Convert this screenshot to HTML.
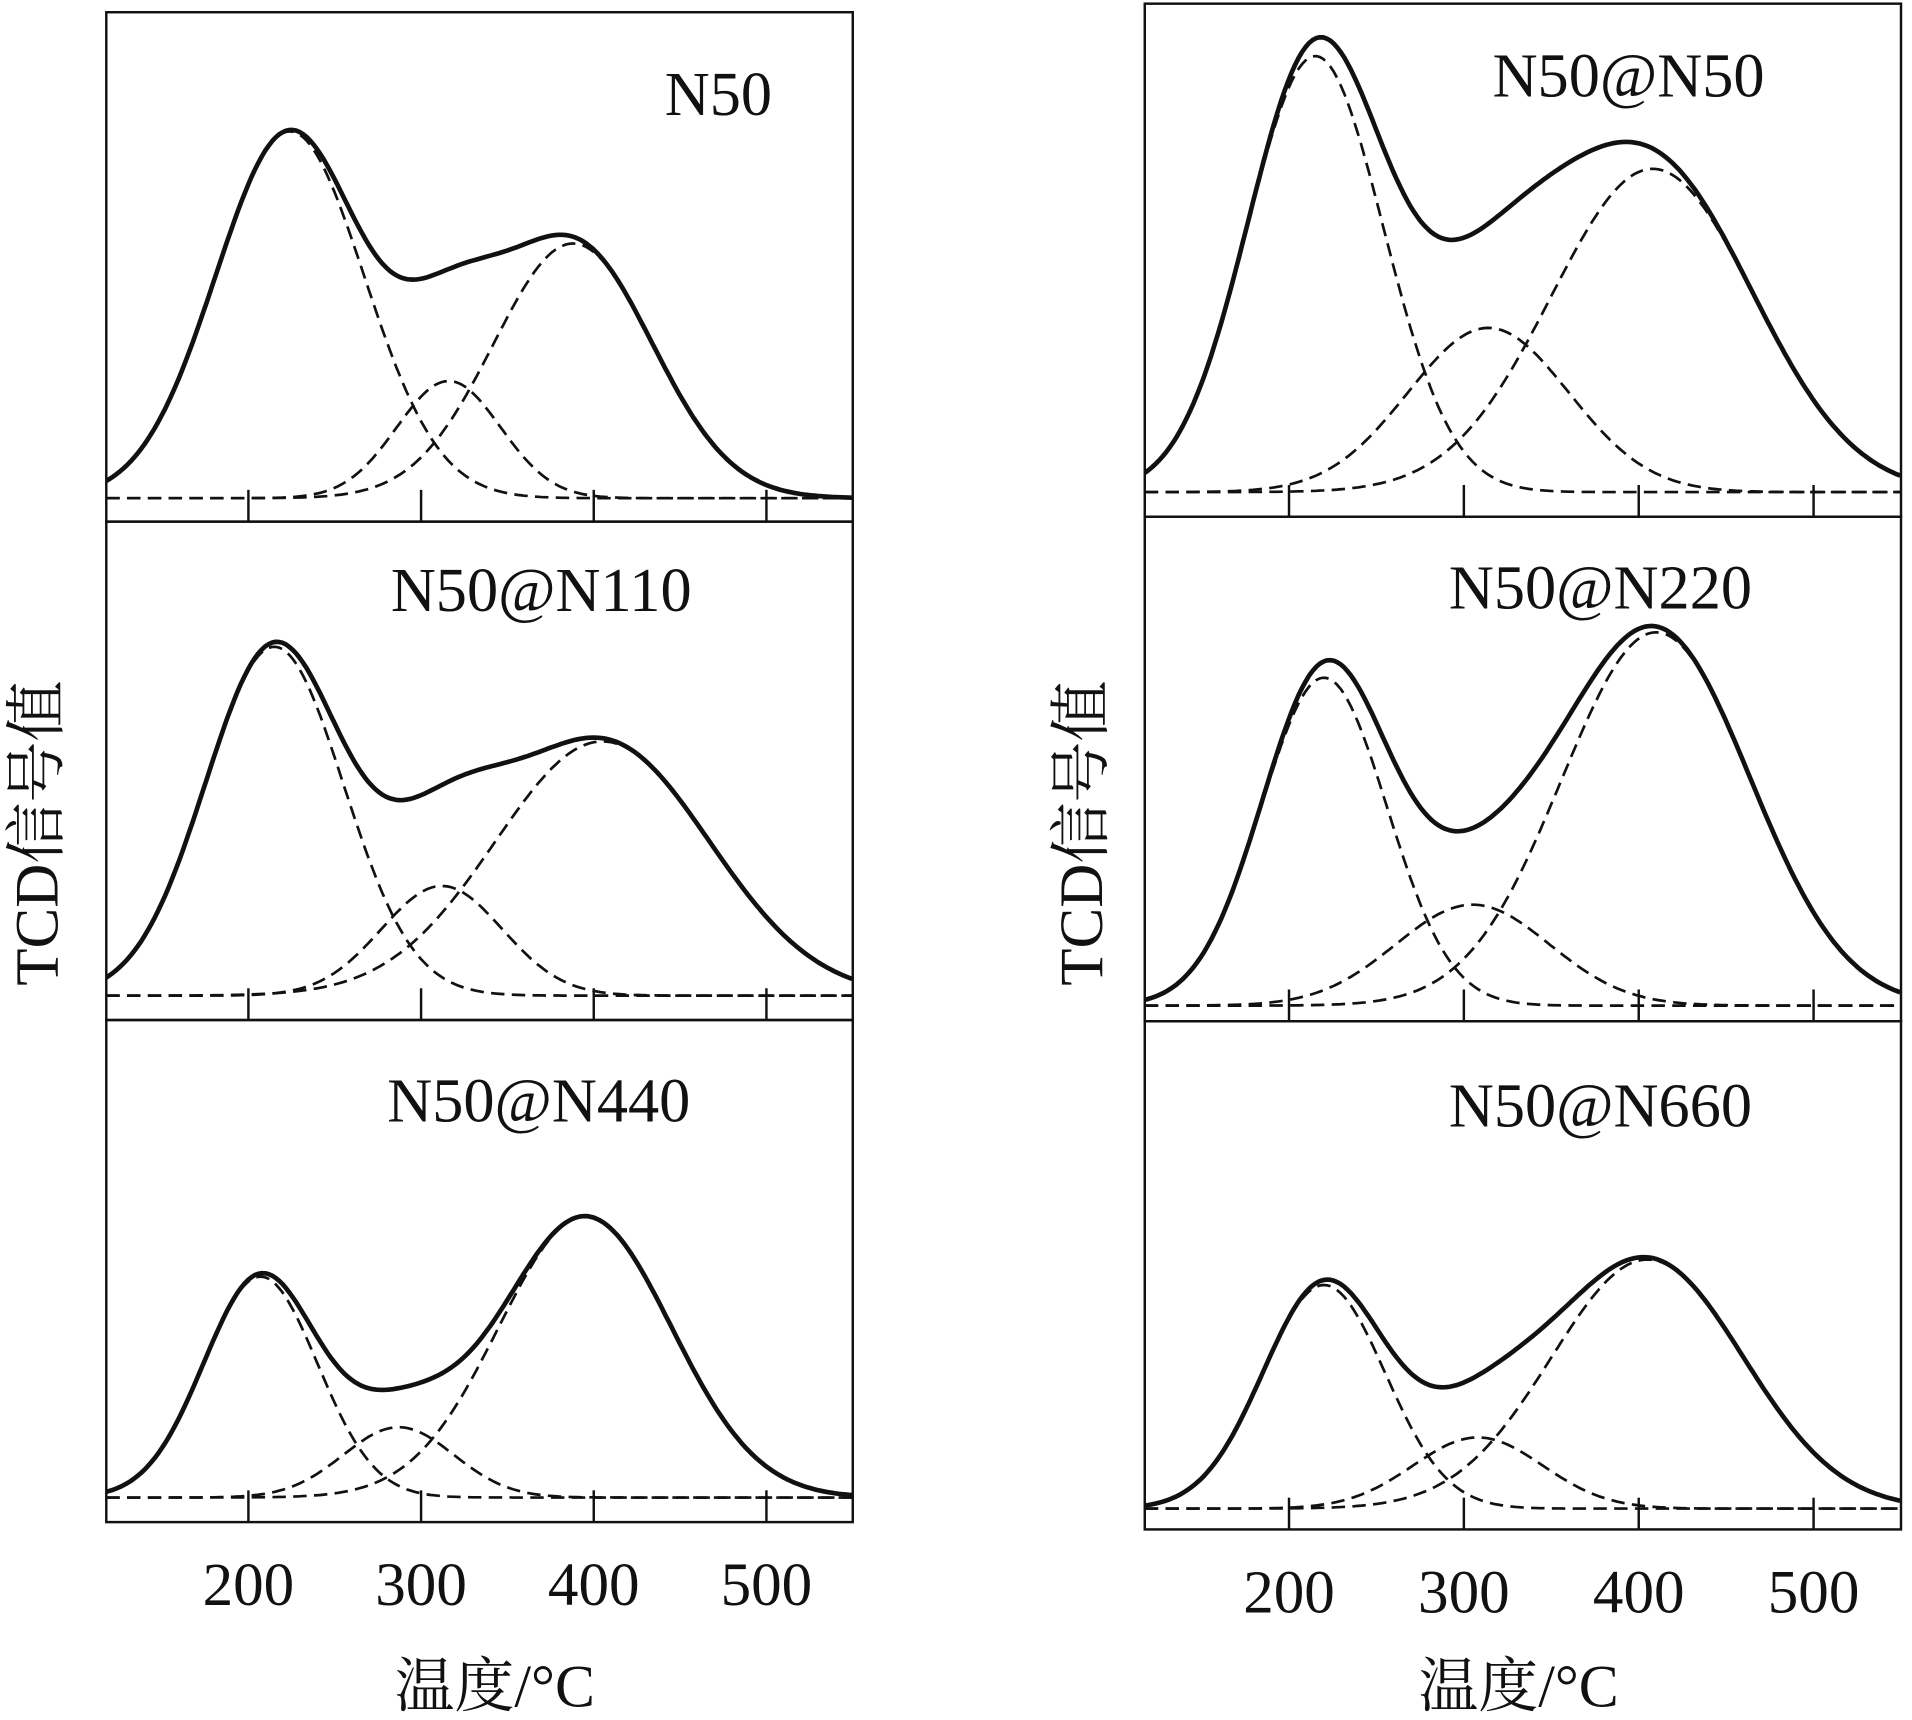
<!DOCTYPE html>
<html><head><meta charset="utf-8"><style>
html,body{margin:0;padding:0;background:#fff;}
svg{display:block;}
text{font-family:"Liberation Serif","Noto Serif CJK SC",serif;fill:#111;}
</style></head><body>
<svg id="chart" width="1912" height="1720" viewBox="0 0 1565 1408" preserveAspectRatio="none" xmlns="http://www.w3.org/2000/svg"></svg>
<script>
// Panel data (temperature in °C; amplitudes in % of panel height)
const panelNames = ["N50","N50@N110","N50@N440","N50@N50","N50@N220","N50@N660"];
const baselines = [4.6, 4.9, 4.9, 4.8, 3.1, 4.1];
const peak1Centers = [224, 215, 207, 215, 220, 220];
const peak1Heights = [72, 70, 44, 85, 65, 44];
const peak1Widths = [43, 40, 33, 39, 36, 35];
const peak2Centers = [316, 312, 287, 314, 305, 308];
const peak2Heights = [23, 22, 14, 32, 20, 14];
const peak2Widths = [30, 35, 32, 46, 44, 37];
const peak3Centers = [388, 405, 395, 408, 410, 405];
const peak3Heights = [50, 51, 56, 63, 74, 49];
const peak3Widths = [46, 62, 50, 58, 54, 55];
const xTicks = [200, 300, 400, 500];

const NS = "http://www.w3.org/2000/svg";
const svg = document.getElementById("chart");
function mk(tag, attrs, parent) {
  const e = document.createElementNS(NS, tag);
  for (const k in attrs) e.setAttribute(k, attrs[k]);
  (parent || svg).appendChild(e);
  return e;
}
const cols = [
  {x0: 87, x1: 698, tMin: 117.7, tMax: 550, tops: [10, 427, 835], bottom: 1246, tickY: 1314, titleX: 405, yLabX: 30},
  {x0: 937, x1: 1556, tMin: 117.5, tMax: 550, tops: [3, 423, 836], bottom: 1252, tickY: 1320, titleX: 1243, yLabX: 885}
];
const titlePos = [[588, 94], [443, 500], [441, 918], [1333, 79], [1310, 498], [1310, 922]];
const gauss = (t, a, c, s) => a * Math.exp(-((t - c) * (t - c)) / (2 * s * s));

cols.forEach((col, ci) => {
  const xs = t => col.x0 + (t - col.tMin) / (col.tMax - col.tMin) * (col.x1 - col.x0);
  for (let pi = 0; pi < 3; pi++) {
    const idx = ci * 3 + pi;
    const top = col.tops[pi];
    const bot = pi < 2 ? col.tops[pi + 1] : col.bottom;
    const h = bot - top;
    const ys = v => bot - v / 100 * h;
    const g = mk("g", {});
    
    
    const clipId = "clip" + idx;
    const cp = mk("clipPath", {id: clipId}, g);
    mk("rect", {x: col.x0, y: top, width: col.x1 - col.x0, height: h}, cp);
    const comps = [
      [peak1Heights[idx], peak1Centers[idx], peak1Widths[idx]],
      [peak2Heights[idx], peak2Centers[idx], peak2Widths[idx]],
      [peak3Heights[idx], peak3Centers[idx], peak3Widths[idx]]
    ];
    const b = baselines[idx];
    comps.forEach((p, k) => {
      let d = "";
      for (let t = col.tMin; t <= col.tMax + 0.1; t += 2) {
        d += (d ? "L" : "M") + xs(t).toFixed(1) + "," + ys(b + gauss(t, p[0], p[1], p[2])).toFixed(1);
      }
      const path = mk("path", {d: d, fill: "none", stroke: "#111", "stroke-width": 2.2, "stroke-dasharray": "11 6", "clip-path": "url(#" + clipId + ")"}, g);
      
      
    });
    let d = "";
    for (let t = col.tMin; t <= col.tMax + 0.1; t += 2) {
      let v = b;
      comps.forEach(p => { v += gauss(t, p[0], p[1], p[2]); });
      d += (d ? "L" : "M") + xs(t).toFixed(1) + "," + ys(v).toFixed(1);
    }
    const tot = mk("path", {d: d, fill: "none", stroke: "#111", "stroke-width": 3.8, "stroke-linejoin": "round", "clip-path": "url(#" + clipId + ")"}, g);
    
    
    xTicks.forEach(t => {
      const tk = mk("line", {x1: xs(t), x2: xs(t), y1: bot, y2: bot - 26, stroke: "#111", "stroke-width": 2}, g);
      
      
    });
    const fr = mk("rect", {x: col.x0, y: top, width: col.x1 - col.x0, height: h, fill: "none", stroke: "#111", "stroke-width": 2}, g);
    
    
    const tt = mk("text", {x: titlePos[idx][0], y: titlePos[idx][1], "font-size": 51, "text-anchor": "middle"}, g);
    tt.textContent = panelNames[idx];
    
    
  }
  xTicks.forEach(t => {
    const tl = mk("text", {x: xs(t), y: col.tickY, "font-size": 50, "text-anchor": "middle"});
    tl.textContent = String(t);
    
    
  });
  const xt = mk("text", {x: col.titleX, y: 1397, "font-size": 49, "text-anchor": "middle"});
  xt.textContent = "温度/°C";
  
  
  const yt = mk("text", {x: 0, y: 0, "font-size": 50, "text-anchor": "middle", transform: "translate(" + (col.yLabX + 17) + ",682) rotate(-90)"});
  yt.textContent = "TCD信号值";
  
  
});
</script>
</body></html>
